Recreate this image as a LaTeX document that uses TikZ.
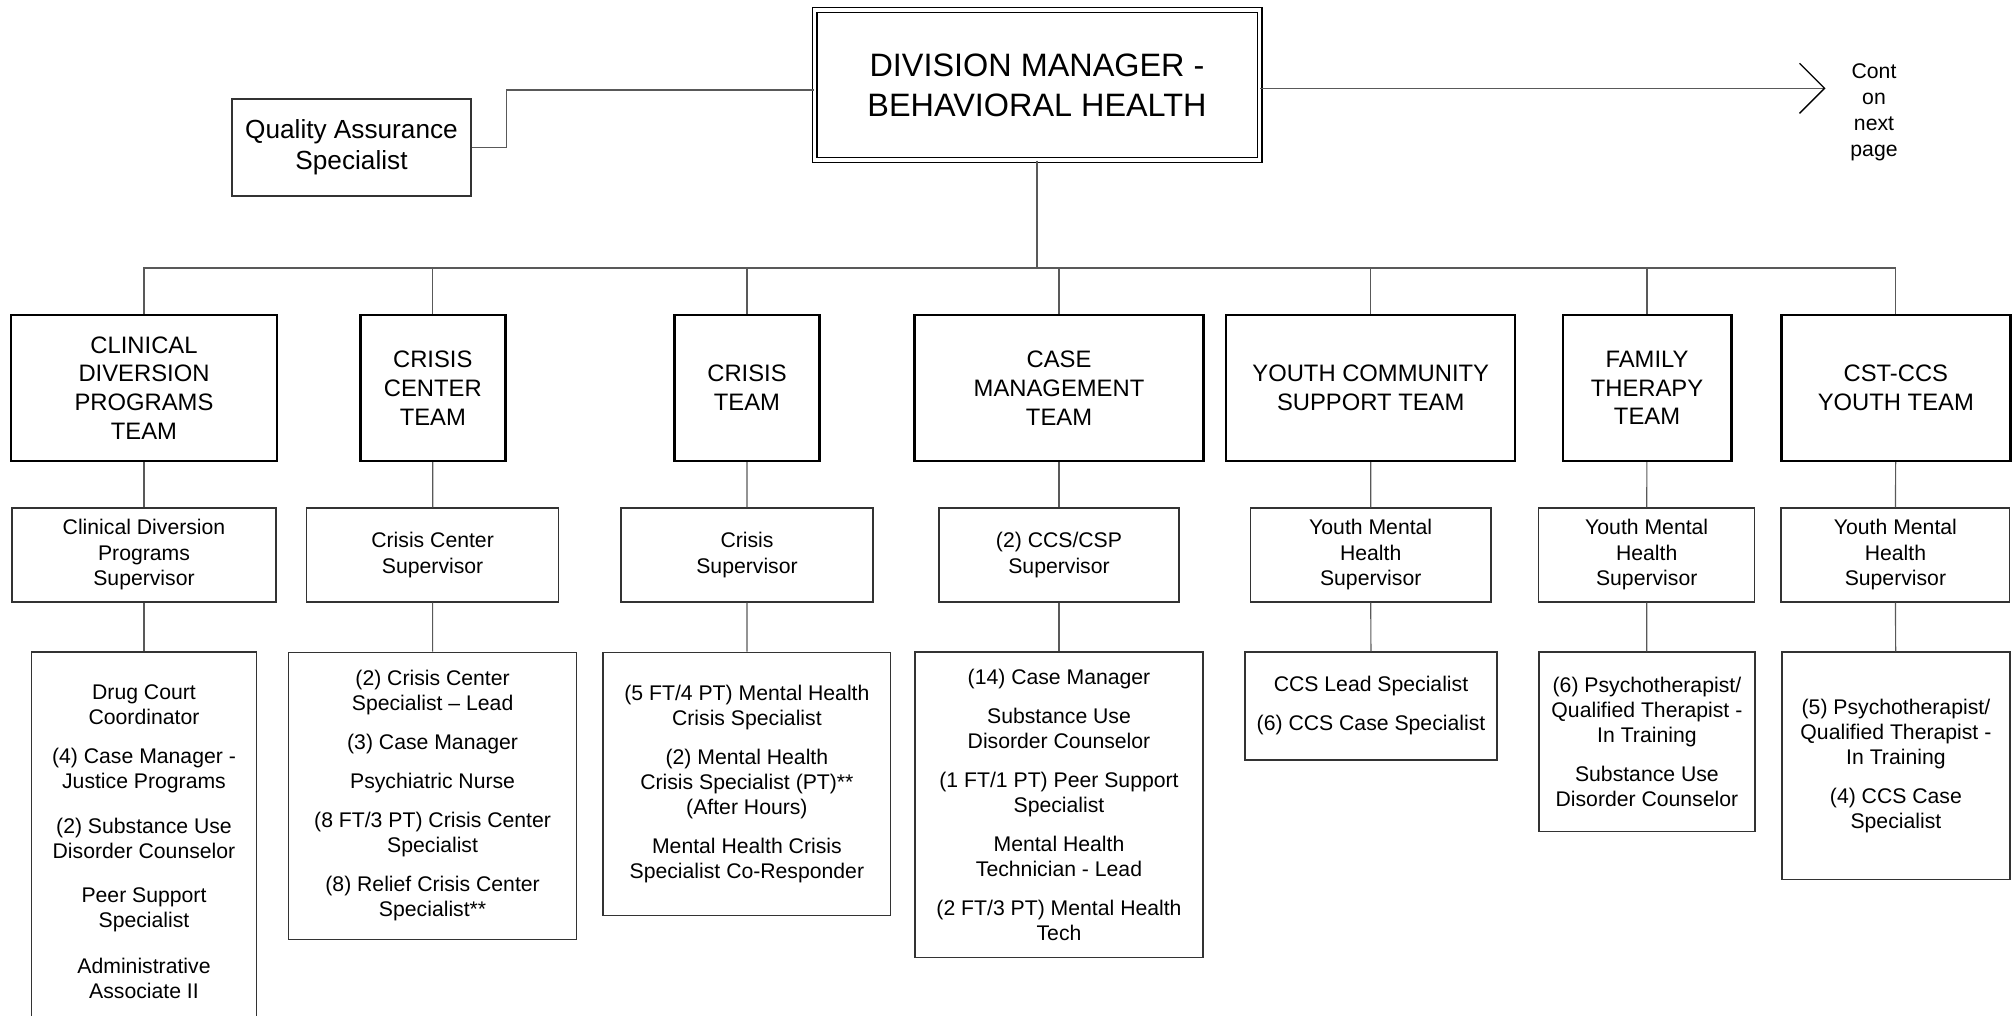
\documentclass[tikz,border=0pt]{standalone}
\usepackage{fontspec}
\setmainfont{Liberation Sans}
\usetikzlibrary{arrows.meta}

\begin{document}
\begin{tikzpicture}[x=0.5pt, y=-0.5pt,
    every node/.style={align=center, inner sep=0pt},
    teambox/.style={draw, line width=1.2pt, minimum height=73pt, font=\fontsize{11.9}{14.4}\selectfont},
    supbox/.style={draw=black!80, line width=0.7pt, minimum height=47pt, font=\fontsize{10.6}{12.75}\selectfont},
    staffbox/.style={draw=black!80, line width=0.7pt, font=\fontsize{10.6}{12.5}\selectfont},
    link/.style={draw=black!65, line width=0.6pt}]

\useasboundingbox (0,0) rectangle (2016,1016);
\clip (0,0) rectangle (2016,1016);

% top row
\node[draw, double, line width=0.7pt, double distance=1.6pt, minimum width=222.5pt, minimum height=75pt,
    font=\fontsize{16.2}{20}\selectfont] (mgr) at (1037,85) {DIVISION MANAGER -\\BEHAVIORAL HEALTH};
\node[draw=black!80, line width=0.7pt, minimum width=119.5pt, minimum height=48.5pt,
    font=\fontsize{13.1}{15.5}\selectfont] (qa) at (351.5,147.5) {Quality Assurance\\Specialist};
\node[font=\fontsize{10.6}{13}\selectfont] (cont) at (1874,112) {Cont\\on\\next\\page};
\coordinate (contarrow) at (1825.5,88.3);
\coordinate (busy) at (0,268);

% teams
\node[teambox, minimum width=133pt] (t1) at (144,388) {CLINICAL\\DIVERSION\\PROGRAMS\\TEAM};
\node[teambox, minimum width=72.5pt] (t2) at (432.8,388) {CRISIS\\CENTER\\TEAM};
\node[teambox, minimum width=72.5pt] (t3) at (747,388) {CRISIS\\TEAM};
\node[teambox, minimum width=144.5pt] (t4) at (1059,388) {CASE\\MANAGEMENT\\TEAM};
\node[teambox, minimum width=144.5pt] (t5) at (1370.7,388) {YOUTH COMMUNITY\\SUPPORT TEAM};
\node[teambox, minimum width=84.3pt] (t6) at (1647,388) {FAMILY\\THERAPY\\TEAM};
\node[teambox, minimum width=114.5pt] (t7) at (1895.8,388) {CST-CCS\\YOUTH TEAM};

% supervisors
\node[supbox, minimum width=132pt] (s1) at (144,555) {Clinical Diversion\\Programs\\Supervisor};
\node[supbox, minimum width=126pt] (s2) at (432.6,555) {Crisis Center\\Supervisor};
\node[supbox, minimum width=126pt] (s3) at (747,555) {Crisis\\Supervisor};
\node[supbox, minimum width=120pt] (s4) at (1059,555) {(2) CCS/CSP\\Supervisor};
\node[supbox, minimum width=120.25pt] (s5) at (1370.7,555) {Youth Mental\\Health\\Supervisor};
\node[supbox, minimum width=108pt] (s6) at (1646.7,555) {Youth Mental\\Health\\Supervisor};
\node[supbox, minimum width=114.35pt] (s7) at (1895.4,555) {Youth Mental\\Health\\Supervisor};

% staff
\node[staffbox, minimum width=112.3pt, minimum height=189.5pt] (b1) at (144,841.5)
    {Drug Court\\Coordinator\\[7pt](4) Case Manager -\\Justice Programs\\[10pt](2) Substance Use\\Disorder Counselor\\[9.5pt]Peer Support\\Specialist\\[10.5pt]Administrative\\Associate II};
\node[staffbox, minimum width=144pt, minimum height=143.5pt] (b2) at (432.6,795.7)
    {(2) Crisis Center\\Specialist – Lead\\[7pt](3) Case Manager\\[7pt]Psychiatric Nurse\\[7pt](8 FT/3 PT) Crisis Center\\Specialist\\[7pt](8) Relief Crisis Center\\Specialist**};
\node[staffbox, minimum width=143.75pt, minimum height=131.5pt] (b3) at (746.9,783.7)
    {(5 FT/4 PT) Mental Health\\Crisis Specialist\\[7pt](2) Mental Health\\Crisis Specialist (PT)**\\(After Hours)\\[7pt]Mental Health Crisis\\Specialist Co-Responder};
\node[staffbox, minimum width=144pt, minimum height=152.85pt] (b4) at (1059,804.9)
    {(14) Case Manager\\[7pt]Substance Use\\Disorder Counselor\\[7pt](1 FT/1 PT) Peer Support\\Specialist\\[7pt]Mental Health\\Technician - Lead\\[7pt](2 FT/3 PT) Mental Health\\Tech};
\node[staffbox, minimum width=126.15pt, minimum height=54pt] (b5) at (1371,706)
    {CCS Lead Specialist\\[7pt](6) CCS Case Specialist};
\node[staffbox, minimum width=108.1pt, minimum height=89.85pt] (b6) at (1646.9,741.9)
    {(6) Psychotherapist/\\Qualified Therapist -\\In Training\\[7pt]Substance Use\\Disorder Counselor};
\node[staffbox, minimum width=113.9pt, minimum height=113.85pt] (b7) at (1895.9,765.9)
    {(5) Psychotherapist/\\Qualified Therapist -\\In Training\\[7pt](4) CCS Case\\Specialist};

% lines
\draw[link] (qa.east) -- ++(35,0) |- (mgr.west |- 0,90);
\draw[link, -{Straight Barb[length=12.5pt, width=25pt, line width=0.7pt, color=black]}] (mgr.east |- contarrow) -- (contarrow);
\draw[link] (mgr.south) -- (mgr.south |- busy);
\draw[link] (t1.north) -- (t1.north |- busy) -- (t7.north |- busy) -- (t7.north);
\draw[link] (t2.north) -- (t2.north |- busy) (t3.north) -- (t3.north |- busy)
    (t4.north) -- (t4.north |- busy) (t5.north) -- (t5.north |- busy) (t6.north) -- (t6.north |- busy);
\draw[link] (t1) -- (s1) (s1) -- (b1);
\draw[link] (t2) -- (s2) (s2) -- (b2);
\draw[link] (t3) -- (s3) (s3) -- (b3);
\draw[link] (t4) -- (s4) (s4) -- (b4);
\draw[link] (t5) -- (s5) (s5) -- (b5);
\draw[link] (t6) -- (s6) (s6) -- (b6);
\draw[link] (t7) -- (s7) (s7) -- (b7);
\end{tikzpicture}
\end{document}
